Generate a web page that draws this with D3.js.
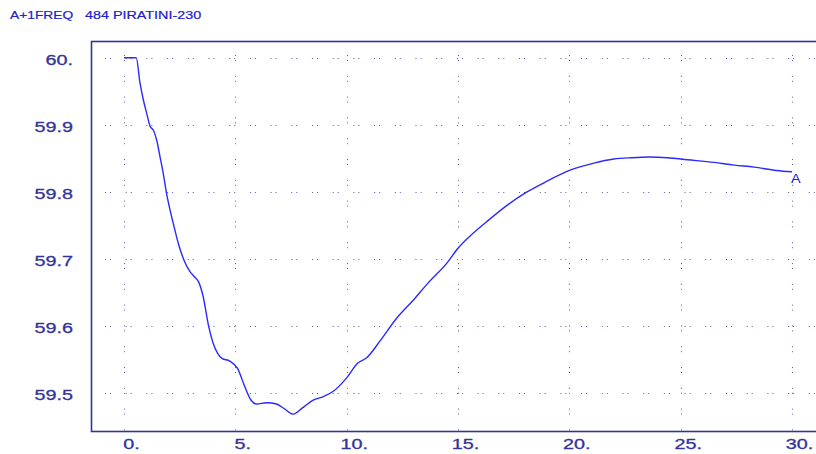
<!DOCTYPE html>
<html>
<head>
<meta charset="utf-8">
<script src="https://cdn.jsdelivr.net/npm/d3@7"></script>
<style>
  html, body { margin: 0; padding: 0; background: #fff; }
  svg { display: block; }
  text { font-family: "Liberation Sans", Arial, sans-serif; }
</style>
</head>
<body>
<svg id="chart" width="816" height="454"></svg>
<script>
// ---- data ----
const times = [0, 0.55, 0.72, 0.87, 1.02, 1.17, 1.32, 1.47, 1.62, 1.76, 1.91, 2.07, 2.25, 2.45, 2.7, 2.95, 3.15,
  3.35, 3.55, 3.8, 4.0, 4.2, 4.4, 4.75, 5.1, 5.4, 5.7, 5.95, 6.4, 6.85, 7.2, 7.6, 8.0, 8.5, 8.95, 9.4,
  10.0, 10.5, 10.9, 11.5, 12.2, 13.0, 13.7, 14.5, 15.0, 15.5, 16.3, 17.2, 18.1, 19.0, 20.0, 21.1, 22.0,
  22.8, 23.6, 24.4, 25.3, 26.5, 27.4, 28.3, 29.3, 30.0];
const freq = [60.0, 60.0, 59.962, 59.937, 59.917, 59.898, 59.892, 59.877, 59.852, 59.828, 59.798, 59.773, 59.748, 59.722, 59.698, 59.682, 59.674,
  59.666, 59.645, 59.600, 59.575, 59.560, 59.552, 59.548, 59.537, 59.512, 59.490, 59.484, 59.486, 59.484, 59.477, 59.469, 59.478, 59.490, 59.495, 59.503,
  59.523, 59.545, 59.553, 59.578, 59.610, 59.639, 59.666, 59.694, 59.716, 59.733, 59.756, 59.780, 59.800, 59.816, 59.832, 59.843, 59.849,
  59.851, 59.852, 59.851, 59.848, 59.844, 59.840, 59.837, 59.832, 59.830];
const xTicks = [0, 5, 10, 15, 20, 25, 30];
const xTickLabels = ["0.", "5.", "10.", "15.", "20.", "25.", "30."];
const yTicks = [60.0, 59.9, 59.8, 59.7, 59.6, 59.5];
const yTickLabels = ["60.", "59.9", "59.8", "59.7", "59.6", "59.5"];
const titleParts = ["A+1FREQ", "484 PIRATINI-230"];
const curveLabel = "A";

// ---- layout ----
const svg = d3.select("#chart");
const frame = { left: 91, top: 41, right: 830, bottom: 431 };
const x = d3.scaleLinear().domain([0, 30]).range([124, 792]);
const y = d3.scaleLinear().domain([59.5, 60.0]).range([393.3, 57.7]);
const navy = "#33339a";
const gridCol = "#5a5aa8";
const lineCol = "#2a2aff";
const titleCol = "#2020d0";
const sx = 1.32;

// title
svg.append("text").attr("transform", "translate(10,19) scale(1.22,1)")
  .attr("font-size", 11.3).attr("fill", titleCol)
  .attr("stroke", titleCol).attr("stroke-width", 0.2).text(titleParts[0]);
svg.append("text").attr("transform", "translate(85,19) scale(1.27,1)")
  .attr("font-size", 11.3).attr("fill", titleCol)
  .attr("stroke", titleCol).attr("stroke-width", 0.2).text(titleParts[1]);

// frame
svg.append("rect")
  .attr("x", frame.left + 0.5).attr("y", frame.top + 0.5)
  .attr("width", frame.right - frame.left).attr("height", frame.bottom - frame.top)
  .attr("fill", "#fff").attr("stroke", navy).attr("stroke-width", 1.6);

// horizontal grid
const gGrid = svg.append("g");
gGrid.selectAll("path.h").data(yTicks).join("path")
  .attr("class", "h")
  .attr("d", d => `M${frame.left},${Math.round(y(d)) + 0.5}H816`)
  .attr("stroke", gridCol).attr("stroke-width", 1)
  .attr("stroke-dasharray", "1,4,1,14.7").attr("stroke-dashoffset", 6.7)
  .attr("fill", "none");
// vertical grid
gGrid.selectAll("path.v").data(xTicks).join("path")
  .attr("class", "v")
  .attr("d", d => `M${Math.round(x(d)) + 0.5},${frame.top}V${frame.bottom}`)
  .attr("stroke", gridCol).attr("stroke-width", 1)
  .attr("stroke-dasharray", "1,4,1,14.8").attr("stroke-dashoffset", 6.8)
  .attr("fill", "none");

// x axis
const xAxis = svg.append("g").attr("transform", `translate(0,${frame.bottom})`)
  .call(d3.axisBottom(x).tickValues(xTicks).tickSize(0)
    .tickFormat((d, i) => xTickLabels[i]));
xAxis.select(".domain").remove();
xAxis.selectAll("text")
  .attr("font-family", "Liberation Sans, Arial, sans-serif")
  .attr("font-size", 15).attr("fill", navy)
  .attr("stroke", navy).attr("stroke-width", 0.3)
  .attr("dy", null).attr("y", 0)
  .attr("text-anchor", "middle")
  .attr("transform", `translate(7,18) scale(${sx},1)`)
  .attr("x", 0);

// y axis
const yAxis = svg.append("g").attr("transform", `translate(73,0)`)
  .call(d3.axisLeft(y).tickValues(yTicks).tickSize(0)
    .tickFormat((d, i) => yTickLabels[i]));
yAxis.select(".domain").remove();
yAxis.selectAll("text")
  .attr("font-family", "Liberation Sans, Arial, sans-serif")
  .attr("font-size", 15).attr("fill", navy)
  .attr("stroke", navy).attr("stroke-width", 0.3)
  .attr("dy", null).attr("x", 0).attr("y", 0)
  .attr("text-anchor", "end")
  .attr("transform", `translate(0,6.5) scale(${sx},1)`);

// curve
const pts = times.map((t, i) => [t, freq[i]]);
const line = d3.line().x(d => x(d[0])).y(d => y(d[1])).curve(d3.curveMonotoneX);
svg.append("path").datum(pts)
  .attr("d", line)
  .attr("fill", "none").attr("stroke", lineCol).attr("stroke-width", 1.4);

// curve label
const last = pts[pts.length - 1];
svg.append("text")
  .attr("transform", `translate(${x(last[0]) - 1},${y(last[1]) + 11.5}) scale(1.2,1)`)
  .attr("font-size", 12).attr("fill", titleCol).text(curveLabel);
</script>
</body>
</html>
